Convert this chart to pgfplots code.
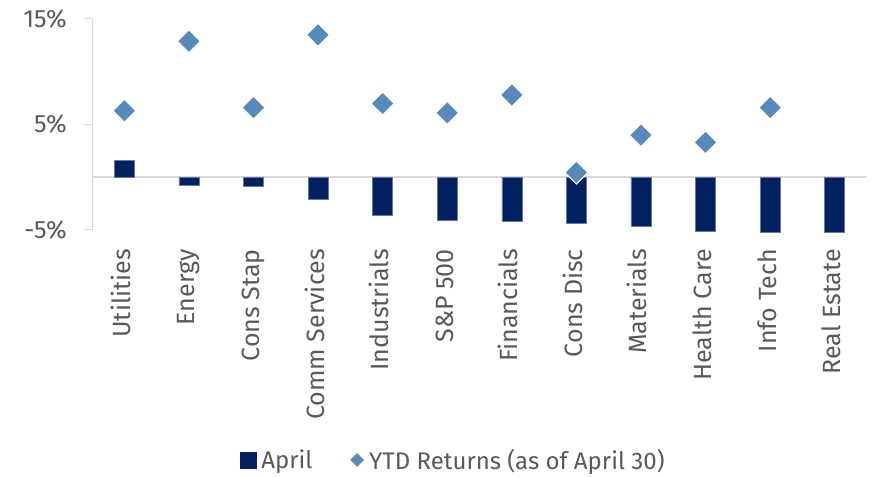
\documentclass[border=0pt]{standalone}
\usepackage{pgfplots}
\pgfplotsset{compat=1.18}
\usepackage{fontspec}
\setmainfont{Fira Sans}
\definecolor{navy}{HTML}{002060}
\definecolor{ytdblue}{HTML}{558ABB}
\definecolor{txtgray}{HTML}{595959}
\definecolor{axgray}{HTML}{D9D9D9}
\begin{document}
\begin{tikzpicture}[x=1bp,y=1bp]
\path[use as bounding box] (0,0) rectangle (875,477);
\begin{axis}[
  at={(92bp,247bp)}, anchor=south west,
  scale only axis, width=775bp, height=211bp,
  xmin=-0.5, xmax=11.5, ymin=-5, ymax=15,
  clip=false,
  axis x line*=bottom, axis y line*=left,
  x axis line style={draw=none},
  y axis line style={draw=axgray, line width=1bp},
  xtick={0,...,11},
  xticklabels={Utilities,Energy,Cons Stap,Comm Services,Industrials,S\&P 500,Financials,Cons Disc,Materials,Health Care,Info Tech,Real Estate},
  x tick style={draw=none},
  ytick={-5,5,15},
  yticklabels={-5\%,5\%,15\%},
  y tick style={draw=axgray, line width=1bp},
  tick align=outside,
  major tick length=8bp,
  minor tick num=0,
  every tick label/.append style={font=\fontsize{25bp}{29bp}\selectfont, text=txtgray},
  xticklabel style={rotate=90, anchor=east, text height=17bp, text depth=5bp, inner sep=0pt, xshift=-11bp},
  yticklabel style={anchor=east, inner sep=0pt, xshift=-17bp},
  extra y ticks={0},
  extra y tick labels={},
  extra y tick style={grid=major, major grid style={draw=axgray, line width=1.6bp}, major tick length=0pt},
  legend style={at={(axis description cs:0.466,-1.09)}, anchor=center, draw=none, fill=none,
    legend columns=2, font=\fontsize{24bp}{28bp}\selectfont, text=txtgray,
    /tikz/every even column/.append style={column sep=36bp}},
  legend cell align=left,
]
\addplot[ybar, bar width=20bp, fill=navy, draw=navy!60!white, line width=0.5bp,
  legend image code/.code={\fill[navy] (0bp,-8bp) rectangle (16bp,8bp); \path (19bp,0bp);}]
  coordinates {(0,1.6) (1,-0.8) (2,-0.85) (3,-2.1) (4,-3.6) (5,-4.1) (6,-4.2) (7,-4.4) (8,-4.6) (9,-5.1) (10,-5.2) (11,-5.2)};
\addlegendentry{April}
\addplot[only marks, mark=square*, mark size=8.1bp, mark options={rotate=45, fill=ytdblue, draw=white, line width=1bp},
  legend image code/.code={\fill[ytdblue] (0bp,6.5bp) -- (6.5bp,0bp) -- (0bp,-6.5bp) -- (-6.5bp,0bp) -- cycle; \path (10bp,0bp);}]
  coordinates {(0,6.3) (1,12.9) (2,6.6) (3,13.5) (4,7.0) (5,6.1) (6,7.8) (7,0.45) (8,4.0) (9,3.3) (10,6.6)};
\addlegendentry{YTD Returns (as of April 30)}
\end{axis}
\end{tikzpicture}
\end{document}
